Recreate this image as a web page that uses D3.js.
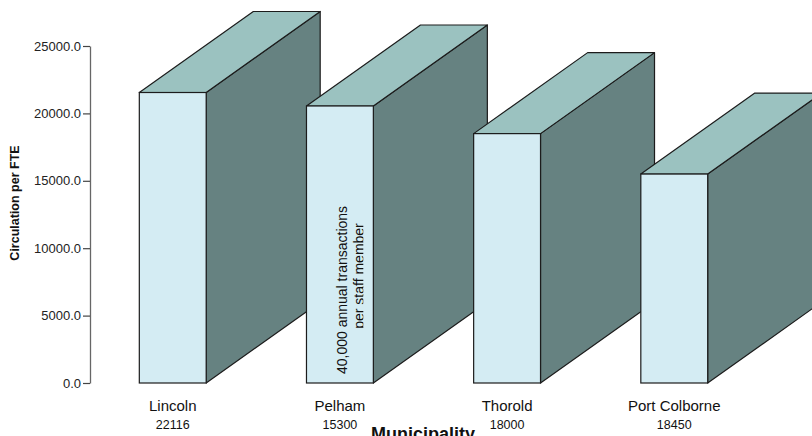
<!DOCTYPE html>
<html>
<head>
<meta charset="utf-8">
<script src="https://cdn.jsdelivr.net/npm/d3@7"></script>
<style>
  html, body { margin: 0; padding: 0; background: #fff; }
  svg { display: block; font-family: "Liberation Sans", Arial, sans-serif; }
</style>
</head>
<body>
<svg id="chart" width="812" height="436"></svg>
<script>
// Circulation per full-time-equivalent staff member, by municipality
const categories = ["Lincoln", "Pelham", "Thorold", "Port Colborne"];
const circulationPerFTE = [21550, 20550, 18500, 15500];
const subLabels = ["22116", "15300", "18000", "18450"];
const yTicks = [0, 5000, 10000, 15000, 20000, 25000];
const noteLines = ["40,000 annual transactions", "per staff member"];
const noteCategory = "Pelham";

const svg = d3.select("#chart");

// Plot geometry
const axisX = 90;
const y = d3.scaleLinear().domain([0, 25000]).range([383, 46]);
const x = d3.scaleBand()
  .domain(categories)
  .range([axisX, 757])
  .paddingInner(0.6)
  .paddingOuter(0.295);

// Oblique offset of the back faces of each 3-D block
const depth = { dx: 114, dy: -81 };

const colors = {
  front: "#d4ecf3",
  top: "#9bc2c0",
  side: "#668281",
  edge: "#1c1c1c"
};

const data = categories.map((c, i) => ({ cat: c, value: circulationPerFTE[i], sub: subLabels[i] }));

// Blocks, drawn left to right so each one overlaps the previous block's side
const bars = svg.append("g").attr("class", "bars");
data.forEach(d => {
  const x0 = x(d.cat), x1 = x0 + x.bandwidth();
  const yt = y(d.value), yb = y(0);
  const g = bars.append("g");
  const pts = p => p.map(q => q.join(",")).join(" ");
  // side face
  g.append("polygon")
    .attr("points", pts([[x1, yt], [x1 + depth.dx, yt + depth.dy], [x1 + depth.dx, yb + depth.dy], [x1, yb]]))
    .attr("fill", colors.side)
    .attr("stroke", colors.edge)
    .attr("stroke-width", 1.2)
    .attr("stroke-linejoin", "round");
  // top face
  g.append("polygon")
    .attr("points", pts([[x0, yt], [x0 + depth.dx, yt + depth.dy], [x1 + depth.dx, yt + depth.dy], [x1, yt]]))
    .attr("fill", colors.top)
    .attr("stroke", colors.edge)
    .attr("stroke-width", 1.2)
    .attr("stroke-linejoin", "round");
  // front face
  g.append("rect")
    .attr("x", x0).attr("y", yt)
    .attr("width", x.bandwidth()).attr("height", yb - yt)
    .attr("fill", colors.front)
    .attr("stroke", colors.edge)
    .attr("stroke-width", 1.2);
});

// Y axis
const yAxis = d3.axisLeft(y)
  .tickValues(yTicks)
  .tickFormat(d3.format(".1f"))
  .tickSize(7)
  .tickSizeOuter(0)
  .tickPadding(2);
const ya = svg.append("g").attr("transform", `translate(${axisX},0)`).call(yAxis);
ya.select(".domain").attr("stroke", "#666").attr("stroke-width", 1.3);
ya.selectAll(".tick line").attr("stroke", "#444").attr("stroke-width", 1.2);
ya.selectAll(".tick text")
  .attr("font-size", 13)
  .attr("fill", "#222")
  .attr("font-family", "Liberation Sans, Arial, sans-serif");

svg.append("text")
  .attr("transform", `translate(19,${y(0) - 180}) rotate(-90)`)
  .attr("text-anchor", "middle")
  .attr("font-size", 12.5)
  .attr("font-weight", "bold")
  .attr("fill", "#111")
  .text("Circulation per FTE");

// Category labels and secondary figures
const labels = svg.append("g");
labels.selectAll("text.cat")
  .data(data)
  .enter().append("text")
  .attr("class", "cat")
  .attr("x", d => x(d.cat) + x.bandwidth() / 2)
  .attr("y", 411)
  .attr("text-anchor", "middle")
  .attr("font-size", 15)
  .attr("fill", "#111")
  .text(d => d.cat);

labels.selectAll("text.sub")
  .data(data)
  .enter().append("text")
  .attr("class", "sub")
  .attr("x", d => x(d.cat) + x.bandwidth() / 2)
  .attr("y", 429)
  .attr("text-anchor", "middle")
  .attr("font-size", 12.5)
  .attr("fill", "#111")
  .text(d => d.sub);

// Axis title sits at the bottom edge, partly below the visible area
svg.append("text")
  .attr("x", 423)
  .attr("y", 440)
  .attr("text-anchor", "middle")
  .attr("font-size", 18)
  .attr("font-weight", "bold")
  .attr("fill", "#111")
  .text("Municipality");

// Rotated note inside the Pelham block
const nx = x(noteCategory) + x.bandwidth() / 2;
const noteValue = circulationPerFTE[categories.indexOf(noteCategory)];
svg.append("defs").append("clipPath").attr("id", "noteClip")
  .append("rect")
  .attr("x", x(noteCategory)).attr("y", y(noteValue))
  .attr("width", x.bandwidth() - 10)
  .attr("height", y(0) - y(noteValue));
const note = svg.append("g").attr("clip-path", "url(#noteClip)");
note.append("text")
  .attr("transform", `translate(${nx + 7},${y(0) - 93}) rotate(-90)`)
  .attr("text-anchor", "middle")
  .attr("font-size", 14)
  .attr("fill", "#111")
  .text(noteLines[0]);
note.append("text")
  .attr("transform", `translate(${nx + 24},${y(0) - 107}) rotate(-90)`)
  .attr("text-anchor", "middle")
  .attr("font-size", 14)
  .attr("fill", "#111")
  .text(noteLines[1]);
</script>
</body>
</html>
